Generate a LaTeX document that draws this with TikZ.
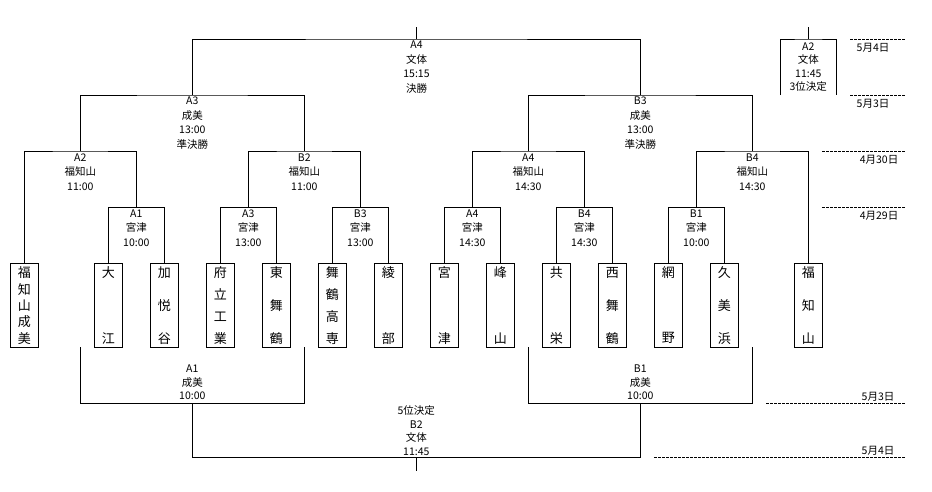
\documentclass[tikz,border=0pt]{standalone}
\usepackage{fontspec}
\setmainfont{Noto Sans CJK JP}
\newcommand\teambx[4]{%
  \node[teambox] (#1) at (#2,305.3) {};
  \foreach \c [count=\i from 0] in {#4} {\node[tchar] (#1-\i) at (#2,{272.7+\i*65.6/(#3-1)}) {\c};}
}
\begin{document}
\begin{tikzpicture}[x=1pt,y=-1pt, line width=1pt,
  every node/.style={inner sep=0pt, outer sep=0pt},
  teambox/.style={draw, minimum width=28pt, minimum height=84pt},
  tchar/.style={font=\fontsize{13}{13}\selectfont},
  lbl/.style={align=center, font=\fontsize{10.5}{14.7}\selectfont},
  lbls/.style={align=center, font=\fontsize{10.5}{13.5}\selectfont},
  datelbl/.style={font=\fontsize{10.5}{12}\selectfont},
  dateline/.style={line width=1pt, dash pattern=on 3pt off 1pt}]
\useasboundingbox[fill=white] (0,0) rectangle (932,491);

% teams
\teambx{t1}{24.3}{5}{福,知,山,成,美}
\teambx{t2}{108.3}{2}{大,江}
\teambx{t3}{164.3}{3}{加,悦,谷}
\teambx{t4}{220.3}{4}{府,立,工,業}
\teambx{t5}{276.3}{3}{東,舞,鶴}
\teambx{t6}{332.3}{4}{舞,鶴,高,専}
\teambx{t7}{388.3}{2}{綾,部}
\teambx{t8}{444.3}{2}{宮,津}
\teambx{t9}{500.3}{2}{峰,山}
\teambx{t10}{556.3}{2}{共,栄}
\teambx{t11}{612.3}{3}{西,舞,鶴}
\teambx{t12}{668.3}{2}{網,野}
\teambx{t13}{724.3}{3}{久,美,浜}
\teambx{t14}{808.3}{3}{福,知,山}

% match points
\coordinate (Ftop) at (416.5,27);
\coordinate (F) at (416.5,39);
\coordinate (SA) at (192.3,95);
\coordinate (SB) at (640.3,95);
\coordinate (QA2) at (80.3,151);
\coordinate (QB2) at (304.3,151);
\coordinate (QA4) at (528.3,151);
\coordinate (QB4) at (752.3,151);
\coordinate (RA1) at (136.3,207.3);
\coordinate (RA3) at (248.3,207.3);
\coordinate (RB3) at (360.3,207.3);
\coordinate (RA4) at (472.3,207.3);
\coordinate (RB4) at (584.3,207.3);
\coordinate (RB1) at (696.3,207.3);

\draw (Ftop) -- (F);
\draw (SA) |- (F) -| (SB);
\draw (QA2) |- (SA) -| (QB2);
\draw (QA4) |- (SB) -| (QB4);
\draw (t1.north) |- (QA2) -| (RA1);
\draw (RA3) |- (QB2) -| (RB3);
\draw (RA4) |- (QA4) -| (RB4);
\draw (RB1) |- (QB4) -| (t14.north);
\draw (t2.north) |- (RA1) -| (t3.north);
\draw (t4.north) |- (RA3) -| (t5.north);
\draw (t6.north) |- (RB3) -| (t7.north);
\draw (t8.north) |- (RA4) -| (t9.north);
\draw (t10.north) |- (RB4) -| (t11.north);
\draw (t12.north) |- (RB1) -| (t13.north);

% labels
\node[lbl] (lF) at (416.5,67) {A4\\文体\\15:15\\決勝};
\node[lbl] (lSA) at (192.3,123) {A3\\成美\\13:00\\準決勝};
\node[lbl] (lSB) at (640.3,123) {B3\\成美\\13:00\\準決勝};
\node[lbl] (lQA2) at (80.3,172) {A2\\福知山\\11:00};
\node[lbl] (lQB2) at (304.3,172) {B2\\福知山\\11:00};
\node[lbl] (lQA4) at (528.3,172) {A4\\福知山\\14:30};
\node[lbl] (lQB4) at (752.3,172) {B4\\福知山\\14:30};
\node[lbl] (lRA1) at (136.3,228) {A1\\宮津\\10:00};
\node[lbl] (lRA3) at (248.3,228) {A3\\宮津\\13:00};
\node[lbl] (lRB3) at (360.3,228) {B3\\宮津\\13:00};
\node[lbl] (lRA4) at (472.3,228) {A4\\宮津\\14:30};
\node[lbl] (lRB4) at (584.3,228) {B4\\宮津\\14:30};
\node[lbl] (lRB1) at (696.3,228) {B1\\宮津\\10:00};

% third place
\coordinate (Ttop) at (808.5,27);
\coordinate (T) at (808.5,39);
\coordinate (TL) at (780.3,95);
\coordinate (TR) at (836.3,95);
\draw (Ttop) -- (T);
\draw (TL) |- (T) -| (TR);
\node[lbls] (lT) at (808.3,67) {A2\\文体\\11:45\\3位決定};

% consolation
\coordinate (CAL) at (80.3,347.3);
\coordinate (CA) at (192.3,403.3);
\coordinate (CAR) at (304.3,347.3);
\coordinate (CBL) at (528.3,347.3);
\coordinate (CB) at (640.3,403.3);
\coordinate (CBR) at (752.3,347.3);
\coordinate (FF) at (416.3,457.3);
\coordinate (FFb) at (416.3,471);
\draw (CAL) |- (CA) -| (CAR);
\draw (CBL) |- (CB) -| (CBR);
\draw (CA) |- (FF) -| (CB);
\draw (FF) -- (FFb);
\node[lbls] (lCA) at (192.3,382.5) {A1\\成美\\10:00};
\node[lbls] (lCB) at (640.3,382.5) {B1\\成美\\10:00};
\node[lbls] (lFF) at (416.3,430.5) {5位決定\\B2\\文体\\11:45};

% dates
\coordinate (d1a) at (850,39);  \coordinate (d1b) at (905,39);
\coordinate (d2a) at (850,95);  \coordinate (d2b) at (905,95);
\coordinate (d3a) at (822,151); \coordinate (d3b) at (905,151);
\coordinate (d4a) at (822,207.3); \coordinate (d4b) at (905,207.3);
\coordinate (d5a) at (766,403.3); \coordinate (d5b) at (905,403.3);
\coordinate (d6a) at (654.3,457.3); \coordinate (d6b) at (905,457.3);
\foreach \d in {1,...,6} {\draw[dateline] (d\d a) -- (d\d b);}
\node[datelbl] (dl1) at (873,47.5) {5月4日};
\node[datelbl] (dl2) at (873,103.5) {5月3日};
\node[datelbl] (dl3) at (879,159.5) {4月30日};
\node[datelbl] (dl4) at (879,215.5) {4月29日};
\node[datelbl] (dl5) at (878,397) {5月3日};
\node[datelbl] (dl6) at (878,451) {5月4日};
\end{tikzpicture}
\end{document}
